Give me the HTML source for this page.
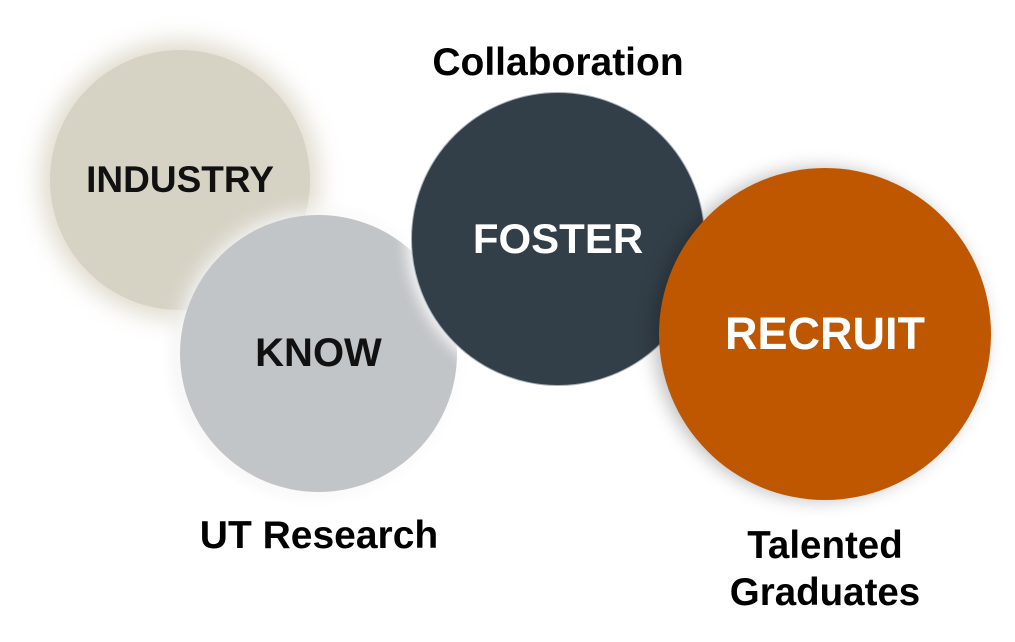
<!DOCTYPE html>
<html><head><meta charset="utf-8"><style>
html,body{margin:0;padding:0;background:#fff;}
body{width:1015px;height:642px;position:relative;overflow:hidden;font-family:"Liberation Sans",Arial,sans-serif;font-weight:bold;}
.c{position:absolute;border-radius:50%;display:flex;align-items:center;justify-content:center;}
.t{position:absolute;color:#000;white-space:nowrap;text-align:center;}
</style></head><body>
<div class="c" style="left:50px;top:50px;width:260px;height:260px;background:#d6d2c4;box-shadow:0 0 22px 10px rgba(190,180,150,0.45);font-size:37px;color:#111;">INDUSTRY</div>
<div class="c" style="left:180px;top:215px;width:277px;height:277px;background:#c2c5c8;box-shadow:0 0 18px 6px rgba(255,255,255,0.9), -4px 0 16px rgba(0,0,0,0.12);font-size:40px;color:#111;">KNOW</div>
<div class="c" style="left:411px;top:92px;width:294px;height:294px;background:#333f48;border:1px solid #a8b0b8;box-sizing:border-box;box-shadow:0 0 14px 4px rgba(255,255,255,0.9);font-size:42px;color:#fff;">FOSTER</div>
<div class="c" style="left:659px;top:168px;width:332px;height:332px;background:#bf5700;box-shadow:-6px 0 18px rgba(0,0,0,0.25);font-size:45px;color:#fff;">RECRUIT</div>
<div class="t" style="left:408px;top:41px;width:300px;font-size:39px;">Collaboration</div>
<div class="t" style="left:169px;top:514px;width:300px;font-size:39px;">UT Research</div>
<div class="t" style="left:675px;top:522px;width:300px;font-size:38.5px;line-height:47px;">Talented<br>Graduates</div>
</body></html>
